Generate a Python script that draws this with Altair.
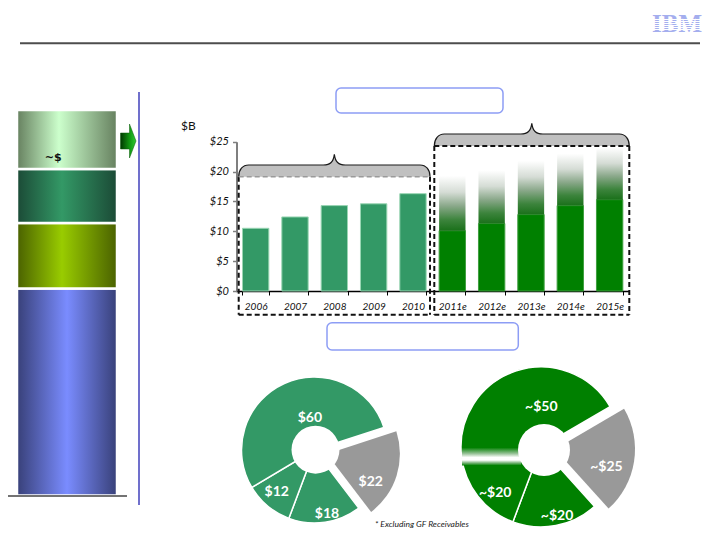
import math
import altair as alt
import pandas as pd

# ---------------- data ----------------
years = ["2006", "2007", "2008", "2009", "2010", "2011e", "2012e", "2013e", "2014e", "2015e"]
hist_years = years[:5]
hist_values = [10.5, 12.4, 14.3, 14.6, 16.3]
fc_years = years[5:]
fc_base = [10.1, 11.3, 12.8, 14.3, 15.3]
fc_upside = [19.3, 20.2, 21.8, 23.0, 24.0]
y_ticks = [0, 5, 10, 15, 20, 25]

left_pie_labels = ["$22", "$18", "$12", "$60"]
left_pie_values = [22, 18, 12, 60]
right_pie_labels = ["~$25", "~$20", "~$20", "~$50"]
right_pie_values = [25, 20, 20, 50]

stack_names = ["base", "second", "third", "top"]
stack_values = [16.1, 5.1, 4.2, 4.6]
stack_label = "~$"
footnote = "* Excluding GF Receivables"
unit_label = "$B"

# ---------------- helpers ----------------
O = 8.0
W, H = 704, 524
FONT = "Lato"


def px(v):
    return v - O


def grad(pairs, x1=0, y1=0, x2=0, y2=1):
    return alt.LinearGradient(
        gradient="linear", x1=x1, y1=y1, x2=x2, y2=y2,
        stops=[alt.GradientStop(color=c, offset=o) for c, o in pairs])


one = pd.DataFrame({"d": [0]})


def rule(x1, x2, y1, y2, color, width, dash=None):
    kw = dict(color=color, strokeWidth=width)
    if dash:
        kw["strokeDash"] = dash
    return alt.Chart(one).mark_rule(**kw).encode(
        x=alt.value(px(x1)), x2=alt.value(px(x2)),
        y=alt.value(px(y1)), y2=alt.value(px(y2)))


def label(text, x, y, **kw):
    return alt.Chart(one).mark_text(text=text, **kw).encode(
        x=alt.value(px(x)), y=alt.value(px(y)))


def shape(path, x, y, **kw):
    return alt.Chart(one).mark_point(shape=path, size=4, filled=True, opacity=1, **kw).encode(
        x=alt.value(px(x)), y=alt.value(px(y)))


def box(x1, x2, y1, y2):
    return alt.Chart(one).mark_rect(cornerRadius=5, fill="white", stroke="#8d9df5",
                                    strokeWidth=1.5).encode(
        x=alt.value(px(x1)), x2=alt.value(px(x2)),
        y=alt.value(px(y1)), y2=alt.value(px(y2)))


def brace_path(width, h=11.7, p=10.7, r=10):
    L, R = -width / 2, width / 2
    return (f"M {L} 0 C {L} {-h*0.6} {L + r*0.4} {-h} {L + r} {-h} "
            f"L -11 {-h} C -4 {-h} -1 {-h - 3} 0 {-h - p} "
            f"C 1 {-h - 3} 4 {-h} 11 {-h} "
            f"L {R - r} {-h} C {R - r*0.4} {-h} {R} {-h*0.6} {R} 0")


# ---------------- header ----------------
logo_col = "#a4aeee"
s0, span, gap_w, bar_w = 0.21, 0.595, 0.030, 0.048
ibm_stops = [(logo_col, 0)]
for k in range(8):
    a = s0 + k * (bar_w + gap_w)
    ibm_stops += [(logo_col, a + bar_w), ("#ffffff", a + bar_w), ("#ffffff", a + bar_w + gap_w),
                  (logo_col, a + bar_w + gap_w)] if k < 7 else [(logo_col, 1)]
header = alt.layer(
    rule(20, 700, 43.3, 43.3, "#4d4d4d", 2),
    label("IBM", 702, 31.7, font="Liberation Serif", fontSize=25, fontWeight="bold",
          fill=grad(ibm_stops), align="right", baseline="alphabetic"),
)

# ---------------- left stacked column ----------------
stack_df = pd.DataFrame({"seg": stack_names, "v": stack_values, "idx": list(range(4))})
stack_scale = alt.Scale(domain=[0, sum(stack_values)], range=[px(495.5), px(110)], nice=False, zero=True)
seg_grads = {
    "base": [("#384078", 0), ("#7a8cff", 0.5), ("#384078", 1)],
    "second": [("#4a6100", 0), ("#99cc00", 0.45), ("#4a6100", 1)],
    "third": [("#1b4a36", 0), ("#339966", 0.45), ("#1b4a36", 1)],
    "top": [("#66805f", 0), ("#ccffcc", 0.42), ("#66805f", 1)],
}
seg_layers = []
for name in stack_names:
    seg_layers.append(
        alt.Chart(stack_df)
        .transform_stack(stack="v", as_=["y0", "y1"], groupby=[], sort=[alt.SortField("idx")])
        .transform_filter(alt.datum.seg == name)
        .mark_rect(fill=grad(seg_grads[name], x1=0, y1=0, x2=1, y2=0), stroke="white", strokeWidth=2.5)
        .encode(x=alt.value(px(17)), x2=alt.value(px(117)),
                y=alt.Y("y0:Q", scale=stack_scale, axis=None), y2="y1:Q")
    )
left_panel = alt.layer(
    *seg_layers,
    rule(7, 127, 496, 496, "#444444", 1.5),
    label(stack_label, 53.3, 157.7, font="DejaVu Sans", fontSize=11, fontWeight="bold", color="#111"),
    shape("M -7.5 -8 L 1.5 -8 L 1.5 -17 L 8 0 L 1.5 17 L 1.5 8 L -7.5 8 Z", 128, 141,
          fill=grad([("#003800", 0), ("#129a12", 0.6), ("#33cc33", 1)], x1=0, y1=0, x2=1, y2=0),
          stroke="#0a5a0a", strokeWidth=0.5),
    rule(139, 139, 92, 505, "#7070cc", 2),
)

# ---------------- bar chart ----------------
xscale = alt.Scale(domain=years, range=[px(236), px(629.3)], paddingInner=0.33, paddingOuter=0.165)
yscale = alt.Scale(domain=[0, 25], range=[px(291), px(141.7)], nice=False, zero=True)
x_axis = alt.Axis(orient="bottom", offset=px(291) - H, title=None, grid=False, tickBand="extent",
                  domainColor="#000000", domainWidth=1.5, tickColor="#000000", tickSize=4,
                  labelAngle=0, labelFont=FONT, labelFontStyle="italic", labelFontSize=10,
                  labelColor="#111111", labelPadding=6)
y_axis = alt.Axis(orient="left", offset=-px(236.5), values=y_ticks, labelExpr="'$' + datum.value",
                  title=None, grid=False, domainColor="#7f7f7f", domainWidth=2,
                  tickColor="#7f7f7f", tickSize=4, tickWidth=1.5, labelFont=FONT,
                  labelFontStyle="italic", labelFontSize=11, labelColor="#111111", labelPadding=4)

hist_df = pd.DataFrame({"year": hist_years, "value": hist_values})
fc_df = pd.DataFrame({"year": fc_years, "base": fc_base, "top": fc_upside})

hist = alt.Chart(hist_df).mark_bar(color="#339966", stroke="#9ad6b4", strokeWidth=1).encode(
    x=alt.X("year:N", scale=xscale, axis=x_axis),
    y=alt.Y("value:Q", scale=yscale, axis=y_axis))
fc_solid = alt.Chart(fc_df).mark_bar(color="#008000", stroke="#3f9f3f", strokeWidth=1).encode(
    x=alt.X("year:N", scale=xscale, axis=x_axis),
    y=alt.Y("base:Q", scale=yscale, axis=y_axis))
fc_fade = alt.Chart(fc_df).mark_bar(
    fill=grad([("#1a701a", 0), ("#3d843d", 0.2), ("#8aa88a", 0.45), ("#d5dcd5", 0.7), ("#ffffff", 1)],
              x1=0, y1=1, x2=0, y2=0)).encode(
    x=alt.X("year:N", scale=xscale, axis=x_axis),
    y=alt.Y("base:Q", scale=yscale, axis=y_axis), y2="top:Q")
bars = alt.layer(hist, fc_solid, fc_fade)

# ---------------- frames, braces, boxes ----------------
dash = [5, 3]
frames = alt.layer(
    box(336, 503, 88, 113),
    box(327, 518.3, 322.7, 350),
    rule(238.7, 238.7, 176.7, 314.7, "#111", 2, dash),
    rule(430, 430, 176.7, 314.7, "#111", 2, dash),
    rule(238.7, 430, 314.7, 314.7, "#111", 2, dash),
    rule(434.3, 434.3, 146, 314.7, "#111", 2, dash),
    rule(629.3, 629.3, 146, 314.7, "#111", 2, dash),
    rule(434.3, 629.3, 314.7, 314.7, "#111", 2, dash),
    shape(brace_path(191.3), 334.35, 176.7, fill="#c0c0c0", stroke="#1a1a1a", strokeWidth=1.2),
    shape(brace_path(195, h=12), 531.8, 146, fill="#c0c0c0", stroke="#1a1a1a", strokeWidth=1.2),
    rule(238.7, 430, 176.7, 176.7, "#9a9a9a", 1.5, dash),
    rule(434.3, 629.3, 146, 146, "#111", 2, dash),
    label(unit_label, 181, 126, font=FONT, fontSize=12, color="#111", align="left", baseline="middle"),
)


# ---------------- donuts ----------------
def donut(labels, values, green, start_deg, c, r, ex, hole_c, hole_r, label_pos, extra=None):
    df = pd.DataFrame({"idx": list(range(len(values))), "lab": labels, "v": values})
    a0 = math.radians(start_deg)
    theta = alt.Theta("v:Q", stack=True, scale=alt.Scale(range=[a0, a0 + 2 * math.pi]))
    order = alt.Order("idx:Q")
    out = "datum.idx == 0"
    base = alt.Chart(df).mark_arc(outerRadius=r, innerRadius=0, strokeWidth=1.5).encode(
        theta=theta, order=order, x=alt.value(px(c[0])), y=alt.value(px(c[1])),
        color=alt.condition(out, alt.value("transparent"), alt.value(green)),
        stroke=alt.condition(out, alt.value("transparent"), alt.value("white")))
    expl = alt.Chart(df).mark_arc(outerRadius=r, innerRadius=0).encode(
        theta=theta, order=order, x=alt.value(px(ex[0])), y=alt.value(px(ex[1])),
        color=alt.condition(out, alt.value("#999999"), alt.value("transparent")))
    layers = [base, expl]
    if extra is not None:
        layers.append(extra)
    layers.append(
        alt.Chart(one).mark_point(shape="circle", filled=True, size=(2 * hole_r) ** 2, fill="white",
                                  opacity=1, strokeWidth=0).encode(
            x=alt.value(px(hole_c[0])), y=alt.value(px(hole_c[1]))))
    for i, (rr, dx, dy) in enumerate(label_pos):
        cc = ex if i == 0 else c
        layers.append(
            alt.Chart(df).mark_text(radius=rr, dx=dx, dy=dy, font=FONT, fontSize=14,
                                    fontWeight="bold", color="white").encode(
                theta=theta, order=order, x=alt.value(px(cc[0])), y=alt.value(px(cc[1])),
                text=alt.condition(f"datum.idx == {i}", alt.Text("lab:N"), alt.value(""))))
    return alt.layer(*layers)


left_donut = donut(left_pie_labels, left_pie_values, "#339966", 72, (314.5, 450), 73,
                   (326.9, 453.9), (315.5, 449.7), 24,
                   [(48, -2, 14), (65, 3, 0), (55, -2.5, 0), (33, 9, -1.5)])

band = alt.Chart(one).mark_rect(
    fill=grad([("#008000", 0), ("#9cc49c", 0.35), ("#ffffff", 0.55), ("#ffffff", 0.7),
               ("#7fb77f", 0.85), ("#008000", 1)], x1=0, y1=0, x2=0, y2=1)).encode(
    x=alt.value(px(462)), x2=alt.value(px(521)), y=alt.value(px(447.5)), y2=alt.value(px(465.5)))

right_donut = donut(right_pie_labels, right_pie_values, "#008000", 59.7, (541, 447), 80,
                    (555, 449.2), (544, 450), 26,
                    [(52, 0, 9.5), (70, 3, 0), (62, 3, 8), (40, 13, -2)], extra=band)

foot = label(footnote, 375, 523.5, font=FONT, fontSize=8.5, fontStyle="italic", color="#222",
             align="left", baseline="middle")

chart = alt.layer(
    header, left_panel, bars, frames, left_donut, right_donut, foot
).resolve_scale(
    x="independent", y="independent", theta="independent"
).properties(
    width=W, height=H, autosize=alt.AutoSizeParams(type="none"), padding=0
).configure_view(stroke=None)

chart.save("out.html", embed_options={"renderer": "svg", "actions": False})
